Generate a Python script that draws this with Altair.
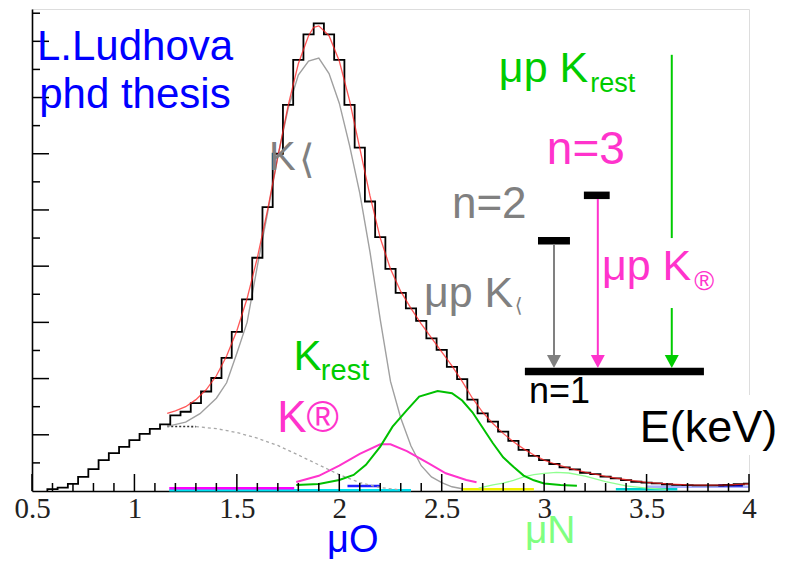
import altair as alt
import pandas as pd

# ---------------- data ----------------
# histogram (bin centres in keV, bin width 0.05) and counts (arbitrary units)
bin_centers = [0.60, 0.65, 0.70, 0.75, 0.80, 0.85, 0.90, 0.95, 1.00, 1.05,
               1.10, 1.15, 1.20, 1.25, 1.30, 1.35, 1.40, 1.45, 1.50, 1.55,
               1.60, 1.65, 1.70, 1.75, 1.80, 1.85, 1.90, 1.95, 2.00, 2.05,
               2.10, 2.15, 2.20, 2.25, 2.30, 2.35, 2.40, 2.45, 2.50, 2.55,
               2.60, 2.65, 2.70, 2.75, 2.80, 2.85, 2.90, 2.95, 3.00, 3.05,
               3.10, 3.15, 3.20, 3.25, 3.30, 3.35, 3.40, 3.45, 3.50, 3.55,
               3.60, 3.65, 3.70, 3.75, 3.80, 3.85, 3.90, 3.95, 4.00]
counts = [0.07, 0.12, 0.25, 0.50, 0.78, 1.10, 1.35, 1.57, 1.81, 2.03,
          2.21, 2.37, 2.69, 2.82, 3.13, 3.54, 4.02, 4.74, 5.66, 6.82,
          8.30, 10.10, 12.00, 13.74, 15.34, 16.25, 16.64, 16.25, 15.34, 13.74,
          12.22, 10.30, 9.03, 7.90, 7.05, 6.50, 6.05, 5.43, 5.02, 4.42,
          3.98, 3.25, 2.76, 2.47, 2.11, 1.78, 1.46, 1.25, 1.10, 0.96,
          0.84, 0.77, 0.65, 0.60, 0.51, 0.45, 0.39, 0.33, 0.30, 0.27,
          0.24, 0.22, 0.21, 0.20, 0.20, 0.20, 0.22, 0.24, 0.26]
bin_width = 0.05

# total fit (red)
fit_x = [1.16, 1.20, 1.25, 1.30, 1.35, 1.40, 1.45, 1.50, 1.55, 1.60, 1.65, 1.70,
         1.75, 1.80, 1.85, 1.875, 1.90, 1.95, 2.00, 2.05, 2.10, 2.15, 2.20, 2.25,
         2.30, 2.35, 2.40, 2.45, 2.50, 2.55, 2.60, 2.65, 2.70, 2.75, 2.80, 2.85,
         2.90, 2.95, 3.00, 3.05, 3.10, 3.15, 3.20, 3.30, 3.40, 3.50, 3.60, 3.70,
         3.80, 3.90, 4.00]
fit_y = [2.76, 2.85, 3.00, 3.25, 3.60, 4.10, 4.80, 5.70, 6.85, 8.30, 10.00, 11.90,
         13.70, 15.20, 16.20, 16.50, 16.55, 16.20, 15.30, 13.90, 12.20, 10.50, 9.00, 7.90,
         7.10, 6.50, 5.95, 5.45, 4.95, 4.45, 3.90, 3.30, 2.80, 2.40, 2.05, 1.75,
         1.50, 1.28, 1.10, 0.97, 0.86, 0.76, 0.67, 0.52, 0.40, 0.31, 0.25, 0.22,
         0.21, 0.22, 0.25]

# K-alpha component (grey)
ka_x = [1.16, 1.25, 1.32, 1.40, 1.45, 1.50, 1.55, 1.60, 1.65, 1.70, 1.75, 1.80,
        1.85, 1.90, 1.95, 2.00, 2.05, 2.10, 2.15, 2.20, 2.25, 2.30, 2.35, 2.40,
        2.45, 2.50, 2.55, 2.60]
ka_y = [2.30, 2.45, 2.75, 3.30, 3.85, 4.90, 6.00, 8.00, 9.90, 11.90, 13.60, 14.80,
        15.30, 15.40, 14.85, 13.80, 12.30, 10.60, 8.50, 6.10, 3.90, 2.60, 1.60, 0.90,
        0.50, 0.30, 0.15, 0.08]

# K-rest component (green)
kr_x = [1.79, 1.90, 2.00, 2.07, 2.13, 2.20, 2.26, 2.33, 2.39, 2.48, 2.55, 2.60,
        2.65, 2.70, 2.75, 2.80, 2.85, 2.90, 2.95, 3.00, 3.08, 3.16]
kr_y = [0.21, 0.25, 0.39, 0.57, 0.93, 1.58, 2.29, 2.88, 3.36, 3.56, 3.48, 3.22,
        2.80, 2.25, 1.70, 1.20, 0.86, 0.55, 0.38, 0.27, 0.21, 0.19]

# K-beta component (magenta)
kb_x = [1.79, 1.90, 2.00, 2.10, 2.20, 2.25, 2.33, 2.43, 2.52, 2.62, 2.67]
kb_y = [0.32, 0.54, 0.90, 1.32, 1.66, 1.66, 1.42, 1.01, 0.63, 0.39, 0.31]

# background (dotted)
bg_x = [1.16, 1.30, 1.40, 1.50, 1.60, 1.70, 1.80, 1.90, 2.00, 2.10, 2.20, 2.30]
bg_y = [2.30, 2.29, 2.22, 2.08, 1.88, 1.62, 1.28, 0.93, 0.58, 0.30, 0.12, 0.04]

# muon-nitrogen contribution (light green)
mun_x = [2.68, 2.75, 2.80, 2.85, 2.90, 2.95, 3.00, 3.06, 3.12, 3.20, 3.30, 3.40, 3.50, 3.60]
mun_y = [0.10, 0.22, 0.28, 0.38, 0.50, 0.58, 0.63, 0.66, 0.64, 0.53, 0.33, 0.18, 0.10, 0.06]

# small flat contributions near the baseline
seg_start = [1.17, 1.17, 2.04, 2.60, 3.35, 3.50, 3.85]
seg_end = [2.35, 1.78, 2.20, 2.95, 3.65, 4.00, 3.97]
seg_level = [0.03, 0.10, 0.18, 0.06, 0.06, 0.15, 0.20]
seg_colors = ["#00e0f0", "#ff00ff", "#2020ff", "#f0f000", "#00d0d0", "#aab0ff", "#0000c0"]

# axis ticks
x_major = [0.5, 1.0, 1.5, 2.0, 2.5, 3.0, 3.5, 4.0]
x_minor = [0.6, 0.7, 0.8, 0.9, 1.1, 1.2, 1.3, 1.4, 1.6, 1.7, 1.8, 1.9,
           2.1, 2.2, 2.3, 2.4, 2.6, 2.7, 2.8, 2.9, 3.1, 3.2, 3.3, 3.4,
           3.6, 3.7, 3.8, 3.9]
y_major = [2, 4, 6, 8, 10, 12, 14, 16]
y_minor = [1, 3, 5, 7, 9, 11, 13, 15, 17]

# level scheme (energy-axis / count-axis coordinates)
level_x1 = [2.906, 2.970, 3.194]
level_x2 = [3.780, 3.126, 3.320]
level_y = [4.25, 8.90, 10.52]
arrow_x = [3.048, 3.262, 3.623, 3.623]
arrow_y1 = [8.79, 10.39, 15.52, 6.51]
arrow_y2 = [4.50, 4.50, 9.00, 4.50]
arrow_colors = ["#808080", "#ff33cc", "#00cc00", "#00cc00"]
head_x = [3.048, 3.262, 3.623]
head_y = [4.61, 4.61, 4.61]
head_colors = ["#808080", "#ff33cc", "#00cc00"]

# text annotations: (text, x, y, colour, size, font)
annotations = [
    ("L.Ludhova", 0.524, 15.34, "#0000ff", 42, "Liberation Sans"),
    ("phd thesis", 0.535, 13.63, "#0000ff", 42, "Liberation Sans"),
    ("K", 1.657, 11.42, "#808080", 40, "Liberation Sans"),
    ("\u27e8", 1.803, 11.30, "#808080", 40, "DejaVu Sans"),
    ("n=2", 2.550, 9.715, "#808080", 44, "Liberation Sans"),
    ("n=3", 3.013, 11.64, "#ff33cc", 46, "Liberation Sans"),
    ("\u03bcp K", 2.779, 14.56, "#00cc00", 43, "Liberation Sans"),
    ("rest", 3.225, 14.20, "#00cc00", 27, "Liberation Sans"),
    ("\u03bcp K", 3.282, 7.51, "#ff33cc", 43, "Liberation Sans"),
    ("\u00ae", 3.733, 7.15, "#ff33cc", 27, "Liberation Sans"),
    ("\u03bcp K", 2.413, 6.55, "#808080", 43, "Liberation Sans"),
    ("\u27e8", 2.857, 6.37, "#808080", 20, "DejaVu Sans"),
    ("K", 1.777, 4.31, "#00cc00", 42, "Liberation Sans"),
    ("rest", 1.910, 3.95, "#00cc00", 29, "Liberation Sans"),
    ("K\u00ae", 1.697, 2.10, "#ff33cc", 44, "Liberation Sans"),
    ("n=1", 2.926, 3.13, "#000000", 36, "Liberation Sans"),
    ("E(keV)", 3.467, 1.74, "#000000", 45, "Liberation Sans"),
    ("\u03bcO", 1.940, -2.17, "#0000ff", 38, "Liberation Sans"),
    ("\u03bcN", 2.906, -1.85, "#80ff80", 39, "Liberation Sans"),
]

# ---------------- chart ----------------
W, H = 717, 482
x_scale = alt.Scale(domain=[0.5, 4.0], nice=False, zero=False)
y_scale = alt.Scale(domain=[0, 17.15], nice=False, zero=False)
x_axis = alt.Axis(values=x_major, format="~g", title=None, grid=False, ticks=False,
                  tickSize=0, labelPadding=3, labelFont="Liberation Serif",
                  labelFontSize=29, labelColor="#222222", domainColor="#000000",
                  domainWidth=1.6, labelFlush=False)
y_axis = alt.Axis(title=None, grid=False, ticks=False, labels=False, tickSize=0,
                  domainColor="#000000", domainWidth=1.6)


def X(f):
    return alt.X(f, type="quantitative", scale=x_scale, axis=x_axis)


def Y(f):
    return alt.Y(f, type="quantitative", scale=y_scale, axis=y_axis)


def line(xs, ys, color, width, dash=None, opacity=1.0):
    df = pd.DataFrame({"x": xs, "y": ys, "o": range(len(xs))})
    kw = dict(color=color, strokeWidth=width, opacity=opacity, clip=True)
    if dash:
        kw["strokeDash"] = dash
    return alt.Chart(df).mark_line(**kw).encode(x=X("x"), y=Y("y"), order="o:Q")


# histogram as step line through bin edges
edges = [c - bin_width / 2 for c in bin_centers]
hx = [edges[0]] + edges + [4.0]
hy = [0.0] + counts + [counts[-1]]
hist = alt.Chart(pd.DataFrame({"x": hx, "y": hy, "o": range(len(hx))})).mark_line(
    interpolate="step-after", color="#000000", strokeWidth=1.8, clip=True
).encode(x=X("x"), y=Y("y"), order="o:Q")

segs = alt.Chart(pd.DataFrame({"x": seg_start, "x2": seg_end, "y": seg_level,
                               "c": seg_colors})).mark_rule(strokeWidth=2.5).encode(
    x=X("x"), x2="x2", y=Y("y"), color=alt.Color("c:N", scale=None))

bg_dark = line(bg_x[:2], bg_y[:2], "#333333", 1.6, dash=[2, 2])
bg_light = line(bg_x[1:], bg_y[1:], "#a8a8a8", 1.3, dash=[3, 3])

# ticks (inward)
xt_major = alt.Chart(pd.DataFrame({"t": x_major})).mark_rule(color="#000", strokeWidth=1.5).encode(
    x=X("t"), y=alt.value(H), y2=alt.value(H - 17))
xt_minor = alt.Chart(pd.DataFrame({"t": x_minor})).mark_rule(color="#000", strokeWidth=1.5).encode(
    x=X("t"), y=alt.value(H), y2=alt.value(H - 8))
yt_major = alt.Chart(pd.DataFrame({"t": y_major})).mark_rule(color="#000", strokeWidth=1.5).encode(
    y=Y("t"), x=alt.value(0), x2=alt.value(17))
yt_minor = alt.Chart(pd.DataFrame({"t": y_minor})).mark_rule(color="#000", strokeWidth=1.5).encode(
    y=Y("t"), x=alt.value(0), x2=alt.value(8))

# level scheme
levels = alt.Chart(pd.DataFrame({"x": level_x1, "x2": level_x2, "y": level_y})).mark_rule(
    color="#000000", strokeWidth=7.5).encode(x=X("x"), x2="x2", y=Y("y"))
arrows = alt.Chart(pd.DataFrame({"x": arrow_x, "y": arrow_y1, "y2": arrow_y2,
                                 "c": arrow_colors})).mark_rule(strokeWidth=2).encode(
    x=X("x"), y=Y("y"), y2="y2", color=alt.Color("c:N", scale=None))
heads = alt.Chart(pd.DataFrame({"x": head_x, "y": head_y, "c": head_colors})).mark_point(
    shape="M-1,-0.93L1,-0.93L0,0.93Z", filled=True, size=196, opacity=1).encode(
    x=X("x"), y=Y("y"), color=alt.Color("c:N", scale=None))

# white box behind E(keV) (hides the frame there)
ebox = alt.Chart(pd.DataFrame({"x": [3.45], "x2": [4.2], "y": [3.42], "y2": [1.28]})).mark_rect(
    color="#ffffff").encode(x=X("x"), x2="x2", y=Y("y"), y2="y2")

texts = []
for s, tx, ty, col, fs, font in annotations:
    texts.append(
        alt.Chart(pd.DataFrame({"x": [tx], "y": [ty], "t": [s]})).mark_text(
            align="left", baseline="alphabetic", fontSize=fs, font=font, color=col
        ).encode(x=X("x"), y=Y("y"), text="t:N")
    )

chart = alt.layer(
    ebox,
    segs,
    line(mun_x, mun_y, "#90ff90", 1.3),
    bg_light, bg_dark,
    line(ka_x, ka_y, "#a0a0a0", 1.4),
    line(kb_x, kb_y, "#ff33cc", 2.0),
    line(kr_x, kr_y, "#00c000", 2.0),
    hist,
    line(fit_x, fit_y, "#ff2020", 1.3, opacity=0.75),
    xt_major, xt_minor, yt_major, yt_minor,
    levels, arrows, heads,
    *texts,
).properties(
    width=W, height=H,
    padding={"left": 24, "top": 1, "right": 41, "bottom": 74},
    autosize=alt.AutoSizeParams(type="none"),
).configure_view(
    stroke="#444444", strokeWidth=1.5
).configure(background="#ffffff")

chart.save("out.html", embed_options={"renderer": "svg", "actions": False})
